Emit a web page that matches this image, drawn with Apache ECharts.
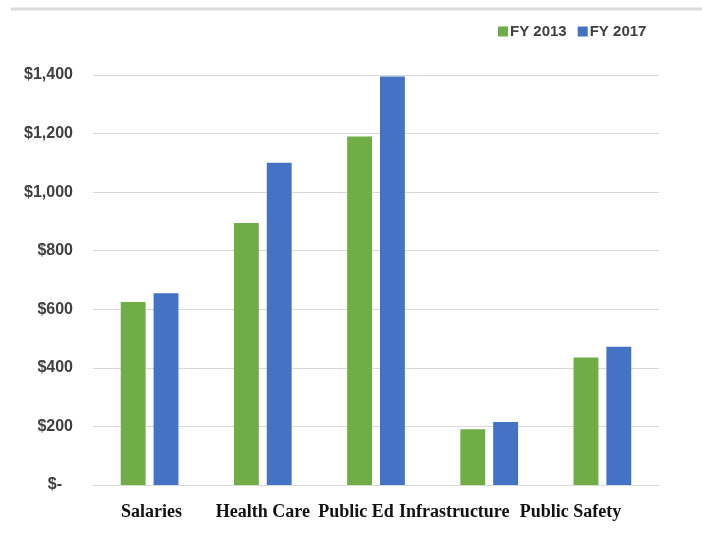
<!DOCTYPE html>
<html>
<head>
<meta charset="utf-8">
<script src="https://cdn.jsdelivr.net/npm/echarts@6/dist/echarts.min.js"></script>
<style>html,body{margin:0;padding:0;background:#fff;}#c{width:702px;height:539px;}</style>
</head>
<body>
<div id="c"></div>
<script>
const categories = ['Salaries', 'Health Care', 'Public Ed', 'Infrastructure', 'Public Safety'];
const seriesNames = ['FY 2013', 'FY 2017'];
const fy2013 = [625, 895, 1190, 190, 435];
const fy2017 = [655, 1100, 1395, 215, 472];
const yTicks = [0, 200, 400, 600, 800, 1000, 1200, 1400];

// small per-label nudges to match the reference's label placement
const labelPads = [[0,0,0,4],[0,0,0,0],[0,40,0,0],[0,70,0,0],[0,64,0,0]];

const chart = echarts.init(document.getElementById('c'), null, {renderer: 'canvas'});
chart.setOption({
  animation: false,
  backgroundColor: '#ffffff',
  color: ['#70AD47', '#4472C4'],
  graphic: [{
    type: 'line',
    shape: {x1: 11, y1: 9, x2: 702, y2: 9},
    style: {stroke: '#dadada', lineWidth: 3}
  }],
  legend: {
    left: 493, top: 19,
    itemWidth: 10, itemHeight: 10, itemGap: 11,
    icon: 'rect',
    textStyle: {fontFamily: 'Liberation Sans', fontWeight: 'bold', fontSize: 15, color: '#404040', padding: [0,0,0,-3]},
    data: seriesNames
  },
  grid: {left: 93, right: 43, top: 75, bottom: 54, containLabel: false},
  xAxis: {
    type: 'category',
    data: categories.map((c, i) => ({value: c, textStyle: {padding: labelPads[i]}})),
    axisLine: {show: true, lineStyle: {color: '#d9d9d9', width: 1}},
    axisTick: {show: false},
    axisLabel: {
      margin: 18, interval: 0,
      fontFamily: 'Liberation Serif', fontWeight: 'bold', fontSize: 18, color: '#111111'
    }
  },
  yAxis: {
    type: 'value',
    min: yTicks[0], max: yTicks[yTicks.length - 1], interval: 200,
    axisLine: {show: false},
    axisTick: {show: false},
    splitLine: {lineStyle: {color: '#d9d9d9', width: 1}},
    axisLabel: {
      margin: 20,
      fontFamily: 'Liberation Sans', fontWeight: 'bold', fontSize: 16, color: '#404040',
      formatter: v => v === 0 ? '{z|$-}' : '$' + v.toLocaleString('en-US'),
      rich: {z: {fontFamily: 'Liberation Sans', fontWeight: 'bold', fontSize: 16, color: '#404040', padding: [0, 11, 0, 0]}}
    }
  },
  series: [
    {name: seriesNames[0], type: 'bar', data: fy2013, barGap: '32%', barCategoryGap: '49%'},
    {name: seriesNames[1], type: 'bar', data: fy2017, barGap: '32%', barCategoryGap: '49%'}
  ]
});
</script>
</body>
</html>
